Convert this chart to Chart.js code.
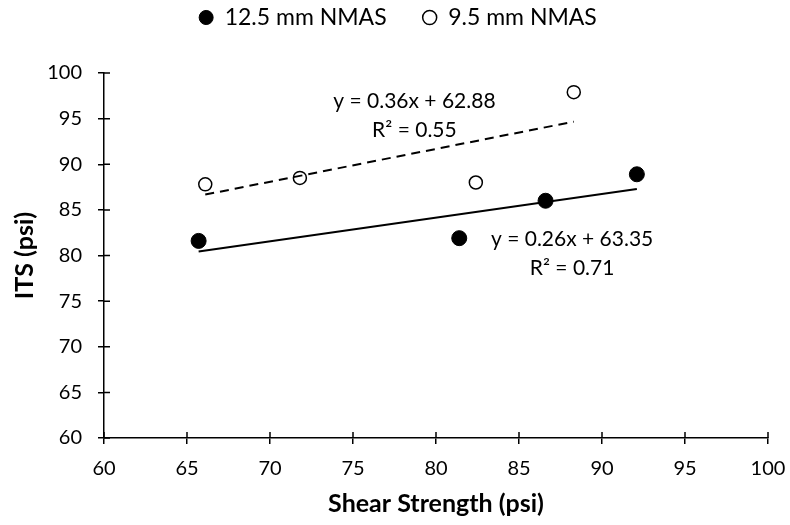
<!DOCTYPE html>
<html>
<head>
<meta charset="utf-8">
<script src="https://cdn.jsdelivr.net/npm/chart.js@4/dist/chart.umd.min.js"></script>
<style>
  html, body { margin: 0; padding: 0; background: #fff; }
</style>
</head>
<body>
<canvas id="chart" width="790" height="525"></canvas>
<script>
// ITS vs shear strength, two mix sizes
const shear125 = [65.7, 81.4, 86.6, 92.1];
const its125 = [81.6, 81.9, 86.0, 88.9];
const shear95 = [66.1, 71.8, 82.4, 88.3];
const its95 = [87.8, 88.5, 88.0, 97.9];

// linear fits printed next to each trend line
const fit125 = { slope: 0.26, intercept: 63.35, r2: 0.71 };
const fit95 = { slope: 0.36, intercept: 62.88, r2: 0.55 };

const xTicks = [60, 65, 70, 75, 80, 85, 90, 95, 100];
const yTicks = [60, 65, 70, 75, 80, 85, 90, 95, 100];

const FONT = "Lato, 'Open Sans', sans-serif";

function points(xs, ys) {
  return xs.map((x, i) => ({ x: x, y: ys[i] }));
}

// trend line across the series' x range
function trend(xs, fit) {
  const lo = Math.min(...xs), hi = Math.max(...xs);
  return [lo, hi].map(x => ({ x: x, y: fit.slope * x + fit.intercept }));
}

function eqText(fit) {
  return ["y = " + fit.slope.toFixed(2) + "x + " + fit.intercept.toFixed(2),
          "R\u00b2 = " + fit.r2.toFixed(2)];
}

// equation labels, anchored in data units
const eqLabels = [
  { lines: eqText(fit95), x: 78.7, y: 96.9 },
  { lines: eqText(fit125), x: 88.2, y: 81.8 }
];

// legend sits higher and a bit right of the default spot
const legendShift = {
  id: "legendShift",
  afterLayout(chart) {
    const lg = chart.legend;
    const dy = -30 - lg.top;
    lg.top += dy; lg.bottom += dy;
    lg.left += 14; lg.right += 14;
  }
};

// ticks that cross the axis line (chart.js only draws the outer half)
const innerTicks = {
  id: "innerTicks",
  afterDraw(chart) {
    const { ctx, chartArea, scales } = chart;
    ctx.save();
    ctx.strokeStyle = "#000";
    ctx.lineWidth = 1.5;
    ctx.beginPath();
    xTicks.forEach(v => {
      const px = scales.x.getPixelForValue(v);
      ctx.moveTo(px, chartArea.bottom);
      ctx.lineTo(px, chartArea.bottom - 6);
    });
    yTicks.forEach(v => {
      const py = scales.y.getPixelForValue(v);
      ctx.moveTo(chartArea.left, py);
      ctx.lineTo(chartArea.left + 6, py);
    });
    ctx.stroke();
    ctx.restore();
  }
};

const equations = {
  id: "equations",
  afterDraw(chart) {
    const { ctx, scales } = chart;
    ctx.save();
    ctx.fillStyle = "#000";
    ctx.font = "21px " + FONT;
    ctx.textAlign = "center";
    ctx.textBaseline = "middle";
    eqLabels.forEach(l => {
      const px = scales.x.getPixelForValue(l.x);
      const py = scales.y.getPixelForValue(l.y);
      l.lines.forEach((t, i) => ctx.fillText(t, px, py + i * 29));
    });
    ctx.restore();
  }
};

new Chart(document.getElementById("chart"), {
  type: "scatter",
  data: {
    datasets: [
      {
        label: "12.5 mm NMAS",
        data: points(shear125, its125),
        backgroundColor: "#000",
        borderColor: "#000",
        pointRadius: 7.5,
        pointHoverRadius: 7.5,
        order: 2
      },
      {
        label: "9.5 mm NMAS",
        data: points(shear95, its95),
        backgroundColor: "#fff",
        borderColor: "#000",
        borderWidth: 1.5,
        pointRadius: 6.5,
        pointHoverRadius: 6.5,
        order: 2
      },
      {
        label: "trend125",
        type: "line",
        data: trend(shear125, fit125),
        borderColor: "#000",
        borderWidth: 2,
        pointRadius: 0,
        fill: false,
        order: 1
      },
      {
        label: "trend95",
        type: "line",
        data: trend(shear95, fit95),
        borderColor: "#000",
        borderWidth: 2,
        borderDash: [9, 6],
        pointRadius: 0,
        fill: false,
        order: 1
      }
    ]
  },
  options: {
    responsive: false,
    animation: false,
    devicePixelRatio: 1,
    layout: { padding: { top: 4, right: 22, bottom: 0, left: 0 } },
    plugins: {
      tooltip: { enabled: false },
      legend: {
        position: "top",
        labels: {
          filter: item => !item.text.startsWith("trend"),
          usePointStyle: true,
          pointStyle: "circle",
          boxHeight: 10,
          pointStyleWidth: 14,
          padding: 36,
          color: "#000",
          font: { family: FONT, size: 23 }
        }
      }
    },
    scales: {
      x: {
        type: "linear",
        min: 60,
        max: 100,
        afterFit(scale) {
          scale.height = 87;
          scale.paddingLeft = 0;
          scale.paddingRight = 0;
        },
        afterBuildTicks(scale) { scale.ticks = xTicks.map(v => ({ value: v })); },
        border: { color: "#000", width: 1.5 },
        grid: { drawOnChartArea: false, color: "#000", lineWidth: 1.5, tickLength: 6 },
        ticks: { color: "#000", padding: 13, font: { family: FONT, size: 20 } },
        title: {
          display: true,
          text: "Shear Strength (psi)",
          color: "#000",
          padding: { top: 0, bottom: 6 },
          font: { family: FONT, size: 25, weight: "bold" }
        }
      },
      y: {
        type: "linear",
        min: 60,
        max: 100,
        afterFit(scale) { scale.width = 104; },
        afterBuildTicks(scale) { scale.ticks = yTicks.map(v => ({ value: v })); },
        border: { color: "#000", width: 1.5 },
        grid: { drawOnChartArea: false, color: "#000", lineWidth: 1.5, tickLength: 6 },
        ticks: { color: "#000", padding: 16, font: { family: FONT, size: 20 } },
        title: {
          display: true,
          text: "ITS (psi)",
          color: "#000",
          padding: { top: 10, bottom: 0 },
          font: { family: FONT, size: 25, weight: "bold" }
        }
      }
    }
  },
  plugins: [legendShift, innerTicks, equations]
});
</script>
</body>
</html>
